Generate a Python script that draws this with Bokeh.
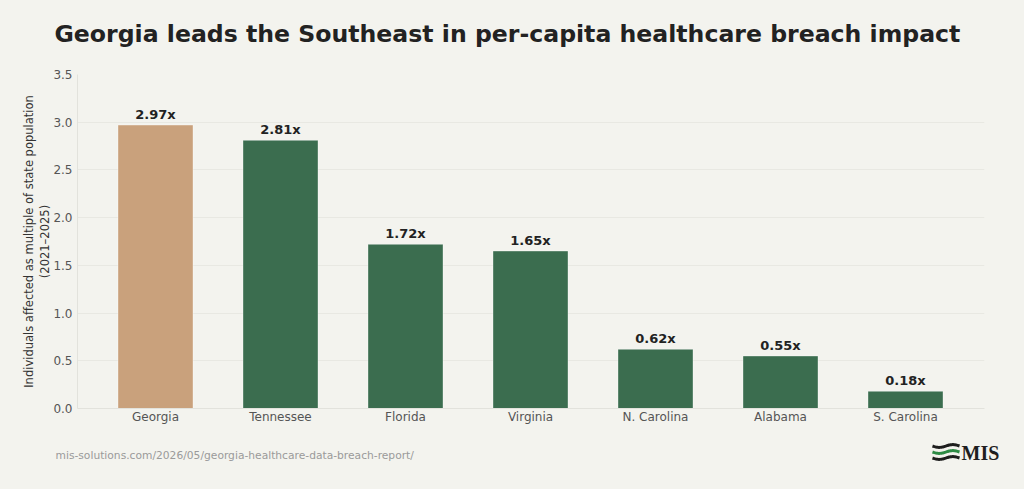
import numpy as np
from bokeh.plotting import figure
from bokeh.models import Range1d, FixedTicker, NumeralTickFormatter, ColumnDataSource
from bokeh.layouts import column
from bokeh.embed import file_html
from bokeh.resources import INLINE
from bokeh.core.properties import value

# Per-capita breach impact by state (individuals affected / population, 2021-2025)
states = ["Georgia", "Tennessee", "Florida", "Virginia", "N. Carolina", "Alabama", "S. Carolina"]
multiples = [2.97, 2.81, 1.72, 1.65, 0.62, 0.55, 0.18]
highlight_state = "Georgia"
y_ticks = [0.0, 0.5, 1.0, 1.5, 2.0, 2.5, 3.0, 3.5]

TITLE = "Georgia leads the Southeast in per-capita healthcare breach impact"
SOURCE = "mis-solutions.com/2026/05/georgia-healthcare-data-breach-report/"

BG = "#F3F3EE"
TAN = "#C9A17C"
GREEN = "#3B6D4F"
FONT = "DejaVu Sans"


def banner(height):
    """A bare strip whose data coordinates equal its pixel coordinates."""
    b = figure(width=1024, height=height, output_backend="svg", toolbar_location=None,
               x_range=Range1d(0, 1024), y_range=Range1d(height, 0), min_border=0)
    b.axis.visible = False
    b.grid.visible = False
    b.outline_line_color = None
    b.background_fill_color = BG
    b.border_fill_color = BG
    b.frame_align = False
    return b


# header with the title
h = banner(60)
h.text(x=[54], y=[33], text=[TITLE], text_font=value(FONT), text_font_style="bold",
       text_font_size="23.6px", text_color="#222222", text_baseline="middle")

# main bar chart
xs = list(range(len(states)))
colors = [TAN if s == highlight_state else GREEN for s in states]
labels = [f"{v:.2f}x" for v in multiples]
src = ColumnDataSource(dict(x=xs, top=multiples, color=colors, label=labels))

p = figure(width=1024, height=380, output_backend="svg", toolbar_location=None,
           x_range=Range1d(-0.624, 6.632), y_range=Range1d(0, 3.5),
           min_border_left=77, min_border_right=40, min_border_top=14,
           min_border_bottom=32)
p.frame_align = False
p.background_fill_color = BG
p.border_fill_color = BG
p.outline_line_color = None

p.vbar(x="x", top="top", width=0.6, fill_color="color", line_color="white",
       line_alpha=0.35, line_width=1, source=src)
p.text(x="x", y="top", text="label", source=src, text_align="center",
       text_baseline="bottom", y_offset=-3, text_font=value(FONT),
       text_font_style="bold", text_font_size="13px", text_color="#222222")

p.xaxis.ticker = FixedTicker(ticks=xs)
p.xaxis.major_label_overrides = {i: s for i, s in enumerate(states)}
p.yaxis.ticker = FixedTicker(ticks=y_ticks)
p.yaxis.formatter = NumeralTickFormatter(format="0.0")
for ax in (p.xaxis, p.yaxis):
    ax.axis_line_color = "#E2E2DC"
    ax.major_tick_line_color = None
    ax.minor_tick_line_color = None
    ax.major_tick_out = 0
    ax.major_tick_in = 0
    ax.minor_tick_out = 0
    ax.major_label_text_font = FONT
    ax.major_label_text_font_size = "12px"
    ax.major_label_text_color = "#555555"
p.yaxis.major_label_standoff = 5
p.xaxis.major_label_standoff = 1
p.yaxis.axis_label = "Individuals affected as multiple of state population\n(2021\u20132025)"
p.yaxis.axis_label_text_font = FONT
p.yaxis.axis_label_text_font_size = "11.5px"
p.yaxis.axis_label_text_font_style = "normal"
p.yaxis.axis_label_text_color = "#333333"
p.yaxis.axis_label_standoff = -2

p.xgrid.grid_line_color = None
p.ygrid.grid_line_color = "#E8E8E2"
p.ygrid.grid_line_width = 1

# footer with source link and logo
f = banner(49)
f.text(x=[55], y=[15], text=[SOURCE], text_font=value(FONT), text_font_size="10.7px",
       text_color="#9A9A9A", text_baseline="middle")
f.text(x=[961], y=[12], text=["MIS"], text_font=value("Liberation Serif"),
       text_font_style="bold", text_font_size="20px", text_color="#1E1E1E",
       text_baseline="middle")
wx = np.linspace(932, 959, 40)
for dy, col in ((5.5, "#1E1E1E"), (11.5, "#2E8B45"), (17.5, "#1E1E1E")):
    f.line(wx, dy + 1.4 * np.sin((wx - 932) / 27 * 2 * np.pi), line_color=col,
           line_width=3)

layout = column(h, p, f, spacing=0)
layout.styles = {"background-color": BG}
open("out.html", "w").write(file_html(layout, INLINE))
